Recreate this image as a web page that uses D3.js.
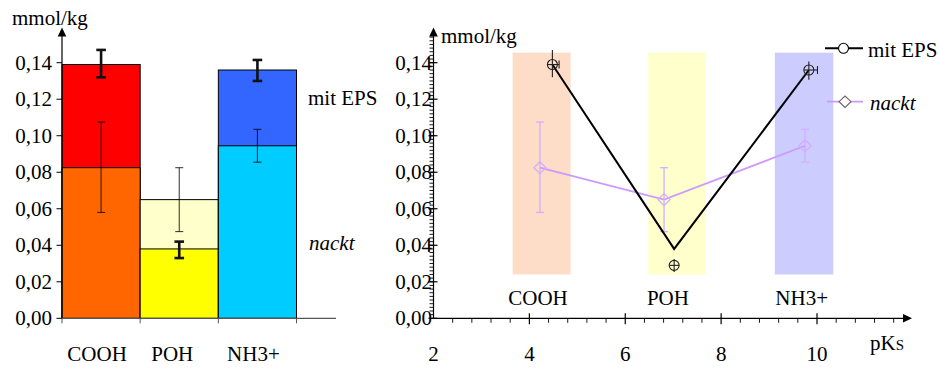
<!DOCTYPE html>
<html>
<head>
<meta charset="utf-8">
<script src="https://cdn.jsdelivr.net/npm/d3@7"></script>
<style>
  html, body { margin: 0; padding: 0; background: #fff; }
  svg { display: block; }
</style>
</head>
<body>
<svg id="chart" width="940" height="368"></svg>
<script>
// Surface groups
const categories = ["COOH", "POH", "NH3+"];

// Loading with EPS (mmol/kg) and error range
const mitEps   = [0.139, 0.038, 0.136];
const mitEpsLo = [0.132, 0.033, 0.130];
const mitEpsHi = [0.147, 0.042, 0.1415];

// Bare cells (mmol/kg) and error range
const nackt   = [0.0825, 0.065, 0.0945];
const nacktLo = [0.058, 0.0475, 0.0855];
const nacktHi = [0.1075, 0.0825, 0.1035];

// Bar colours per group
const mitEpsColors = ["#ff0000", "#ffff00", "#3366ff"];
const nacktColors  = ["#ff6600", "#ffffcc", "#00ccff"];

// pKs panel: positions of the groups on the pKs axis
const pkMitEps = [4.48, 7.02, 9.83];
const pkMitEpsErr = [0.14, 0, 0.18];
const mitEpsMarker   = [0.139, 0.029, 0.136];
const mitEpsMarkerLo = [0.132, 0.0253, 0.1306];
const mitEpsMarkerHi = [0.147, 0.0325, 0.1407];
const pkNackt = [4.22, 6.81, 9.75];

// pKs ranges of the functional groups
const bandLo = [3.65, 6.48, 9.12];
const bandHi = [4.86, 7.68, 10.34];
const bandYLo = 0.024, bandYHi = 0.1455;
const bandColors = ["#fddcc8", "#ffffcc", "#ccccff"];
const bandLabelPk = [4.18, 6.89, 9.68];

const yTicks = [0, 0.02, 0.04, 0.06, 0.08, 0.10, 0.12, 0.14];
const xTicks = [2, 4, 6, 8, 10];

const svg = d3.select("#chart");
const fmt = d => d3.format(".2f")(d).replace(".", ",");
const FS = 21;
const FONT = "'Liberation Serif', 'Times New Roman', Times, Tinos, 'Nimbus Roman', 'Noto Serif', 'DejaVu Serif', FreeSerif, serif";

const y = d3.scaleLinear().domain([0, 0.14]).range([318.3, 62.7]);

function arrow(g, x, yTip, dir) {
  // filled triangle pointing up ("up") or right ("right")
  const p = dir === "up"
    ? [[x, yTip], [x - 4.3, yTip + 9], [x + 4.3, yTip + 9]]
    : [[x, yTip], [x - 9, yTip - 4.3], [x - 9, yTip + 4.3]];
  g.append("path").attr("d", "M" + p.join("L") + "Z").attr("fill", "#000");
}

/* ---------------- left panel: bars ---------------- */
const L = svg.append("g");
const xb = d3.scaleBand().domain(categories).range([62, 296.5]).padding(0);

const barData = categories.map((c, i) => {
  const a = { cat: c, v: mitEps[i], lo: mitEpsLo[i], hi: mitEpsHi[i], col: mitEpsColors[i], eps: true };
  const b = { cat: c, v: nackt[i], lo: nacktLo[i], hi: nacktHi[i], col: nacktColors[i], eps: false };
  return a.v >= b.v ? [a, b] : [b, a];
}).flat();

L.selectAll("rect.bar").data(barData).join("rect")
  .attr("class", "bar")
  .attr("x", d => xb(d.cat))
  .attr("width", xb.bandwidth())
  .attr("y", d => y(d.v))
  .attr("height", d => y(0) - y(d.v))
  .attr("fill", d => d.col)
  .attr("stroke", "#000").attr("stroke-width", 1);

// error bars: thin for bare cells, heavy for EPS
const errData = barData.slice().sort((a, b) => (a.eps ? 1 : 0) - (b.eps ? 1 : 0));
errData.forEach(d => {
  const cx = xb(d.cat) + xb.bandwidth() / 2;
  const w = d.eps ? 2.6 : 1.1;
  const hw = d.eps ? 4.8 : 4;
  const col = d.eps ? "#111" : "rgba(0,0,0,0.75)";
  const g = L.append("g").attr("stroke", col).attr("stroke-width", w);
  g.append("line").attr("x1", cx).attr("x2", cx).attr("y1", y(d.lo)).attr("y2", y(d.hi));
  g.append("line").attr("x1", cx - hw).attr("x2", cx + hw).attr("y1", y(d.lo)).attr("y2", y(d.lo));
  g.append("line").attr("x1", cx - hw).attr("x2", cx + hw).attr("y1", y(d.hi)).attr("y2", y(d.hi));
});

// axes
L.append("line").attr("x1", 62).attr("x2", 62).attr("y1", y(0)).attr("y2", 36)
  .attr("stroke", "#000").attr("stroke-width", 1.2);
arrow(L, 62, 27.5, "up");
L.append("line").attr("x1", 62).attr("x2", 336).attr("y1", y(0)).attr("y2", y(0))
  .attr("stroke", "#555").attr("stroke-width", 1.2);
L.selectAll("line.yt").data(yTicks).join("line")
  .attr("x1", 56.5).attr("x2", 62).attr("y1", d => y(d)).attr("y2", d => y(d))
  .attr("stroke", "#000");
L.selectAll("text.yl").data(yTicks).join("text")
  .attr("x", 52).attr("y", d => y(d) + 7).attr("text-anchor", "end")
  .attr("font-size", FS).text(fmt);
const bounds = [xb.range()[0]].concat(categories.map(c => xb(c) + xb.bandwidth()));
L.selectAll("line.xt").data(bounds).join("line")
  .attr("x1", d => d).attr("x2", d => d).attr("y1", y(0)).attr("y2", y(0) + 5)
  .attr("stroke", "#555");
L.selectAll("text.xl").data(categories).join("text")
  .attr("x", (d, i) => xb(d) + xb.bandwidth() / 2 - [4, 7, 4][i])
  .attr("y", 361).attr("text-anchor", "middle").attr("font-size", FS).text(d => d);
L.append("text").attr("x", 12).attr("y", 25).attr("font-size", FS).text("mmol/kg");
L.append("text").attr("x", 308).attr("y", 105).attr("font-size", FS).text("mit EPS");
L.append("text").attr("x", 309).attr("y", 250).attr("font-size", FS)
  .attr("font-style", "italic").text("nackt");

/* ---------------- right panel: pKs ---------------- */
const R = svg.append("g");
const xr = d3.scaleLinear().domain([2, 10]).range([433.5, 817]);

// group bands
R.selectAll("rect.band").data(categories).join("rect")
  .attr("x", (d, i) => xr(bandLo[i]))
  .attr("width", (d, i) => xr(bandHi[i]) - xr(bandLo[i]))
  .attr("y", y(bandYHi))
  .attr("height", y(bandYLo) - y(bandYHi))
  .attr("fill", (d, i) => bandColors[i]);
R.selectAll("text.bl").data(categories).join("text")
  .attr("x", (d, i) => xr(bandLabelPk[i])).attr("y", 305)
  .attr("text-anchor", "middle").attr("font-size", FS).text(d => d);

// axes
R.append("line").attr("x1", xr(2)).attr("x2", xr(2)).attr("y1", y(0)).attr("y2", 36)
  .attr("stroke", "#000").attr("stroke-width", 1.2);
arrow(R, xr(2), 27.5, "up");
R.append("line").attr("x1", xr(2)).attr("x2", 903).attr("y1", y(0)).attr("y2", y(0))
  .attr("stroke", "#000").attr("stroke-width", 1.2);
arrow(R, 912, y(0), "right");

const yMinor = d3.range(0, 0.1545, 0.002);
R.selectAll("line.ym").data(yMinor).join("line")
  .attr("x1", xr(2) - 4).attr("x2", xr(2)).attr("y1", d => y(d)).attr("y2", d => y(d))
  .attr("stroke", "#000").attr("stroke-width", 0.9);
R.selectAll("line.yM").data(yTicks).join("line")
  .attr("x1", xr(2) - 5).attr("x2", xr(2) + 4).attr("y1", d => y(d)).attr("y2", d => y(d))
  .attr("stroke", "#000").attr("stroke-width", 1.2);
R.selectAll("text.yl").data(yTicks).join("text")
  .attr("x", 432).attr("y", d => y(d) + 7).attr("text-anchor", "end")
  .attr("font-size", FS).text(fmt);

const xMinor = d3.range(2.4, 11.7, 0.4).filter(v => Math.abs(v / 2 - Math.round(v / 2)) > 0.01);
R.selectAll("line.xm").data(xMinor).join("line")
  .attr("x1", d => xr(d)).attr("x2", d => xr(d)).attr("y1", y(0)).attr("y2", y(0) + 4.5)
  .attr("stroke", "#000").attr("stroke-width", 0.9);
R.selectAll("line.xM").data(xTicks.slice(1)).join("line")
  .attr("x1", d => xr(d)).attr("x2", d => xr(d)).attr("y1", y(0) - 5).attr("y2", y(0) + 6)
  .attr("stroke", "#000").attr("stroke-width", 1.2);
R.selectAll("text.xl").data(xTicks).join("text")
  .attr("x", d => xr(d)).attr("y", 361).attr("text-anchor", "middle")
  .attr("font-size", FS).text(d => d);

R.append("text").attr("x", 441).attr("y", 43).attr("font-size", FS).text("mmol/kg");
const pk = R.append("text").attr("x", 870).attr("y", 350).attr("font-size", FS);
pk.append("tspan").text("pK");
pk.append("tspan").attr("font-size", 15).text("S");

// bare cells: line, error bars, diamonds
const purple = "#cc99ff";
R.append("path")
  .datum(nackt.map((v, i) => [pkNackt[i], v]))
  .attr("d", d3.line().x(d => xr(d[0])).y(d => y(d[1])))
  .attr("fill", "none").attr("stroke", purple).attr("stroke-width", 1.8);
nackt.forEach((v, i) => {
  const cx = xr(pkNackt[i]);
  const g = R.append("g").attr("stroke", "#d4aeff").attr("stroke-width", 1.3).attr("fill", "none");
  g.append("line").attr("x1", cx).attr("x2", cx).attr("y1", y(nacktLo[i])).attr("y2", y(nacktHi[i]));
  [nacktLo[i], nacktHi[i]].forEach(e =>
    g.append("line").attr("x1", cx - 4).attr("x2", cx + 4).attr("y1", y(e)).attr("y2", y(e)));
  const cy = y(v), r = 6;
  g.append("path").attr("d", `M${cx},${cy - r}L${cx + r},${cy}L${cx},${cy + r}L${cx - r},${cy}Z`);
});

// with EPS: line and crosshair circles
R.append("path")
  .datum(mitEps.map((v, i) => [pkMitEps[i], v]))
  .attr("d", d3.line().x(d => xr(d[0])).y(d => y(d[1])))
  .attr("fill", "none").attr("stroke", "#000").attr("stroke-width", 2);
mitEpsMarker.forEach((v, i) => {
  const cx = xr(pkMitEps[i]), cy = y(v), r = 5;
  const g = R.append("g").attr("stroke", "#222").attr("stroke-width", 1.1).attr("fill", "none");
  g.append("circle").attr("cx", cx).attr("cy", cy).attr("r", r);
  g.append("line").attr("x1", cx).attr("x2", cx).attr("y1", y(mitEpsMarkerLo[i])).attr("y2", y(mitEpsMarkerHi[i]));
  const xe = xr(pkMitEps[i] + pkMitEpsErr[i]);
  g.append("line").attr("x1", cx - r).attr("x2", Math.max(xe, cx + r)).attr("y1", cy).attr("y2", cy);
  if (pkMitEpsErr[i] > 0)
    g.append("line").attr("x1", xe).attr("x2", xe).attr("y1", cy - 4).attr("y2", cy + 4);
});

// legend
const lg = R.append("g");
lg.append("line").attr("x1", 825).attr("x2", 863).attr("y1", 48.3).attr("y2", 48.3)
  .attr("stroke", "#000").attr("stroke-width", 2);
lg.append("circle").attr("cx", 843.5).attr("cy", 48.3).attr("r", 5)
  .attr("fill", "#fff").attr("stroke", "#000").attr("stroke-width", 1.1);
lg.append("text").attr("x", 868).attr("y", 56.5).attr("font-size", FS).text("mit EPS");
lg.append("line").attr("x1", 827).attr("x2", 863).attr("y1", 101.7).attr("y2", 101.7)
  .attr("stroke", purple).attr("stroke-width", 1.8);
lg.append("path").attr("d", "M845,96L851,101.7L845,107.4L839,101.7Z")
  .attr("fill", "#fff").attr("stroke", "#666").attr("stroke-width", 1.1);
lg.append("text").attr("x", 870).attr("y", 110).attr("font-size", FS)
  .attr("font-style", "italic").text("nackt");

// serif face for every label
svg.selectAll("text").attr("font-family", FONT).attr("fill", "#000");
</script>
</body>
</html>
